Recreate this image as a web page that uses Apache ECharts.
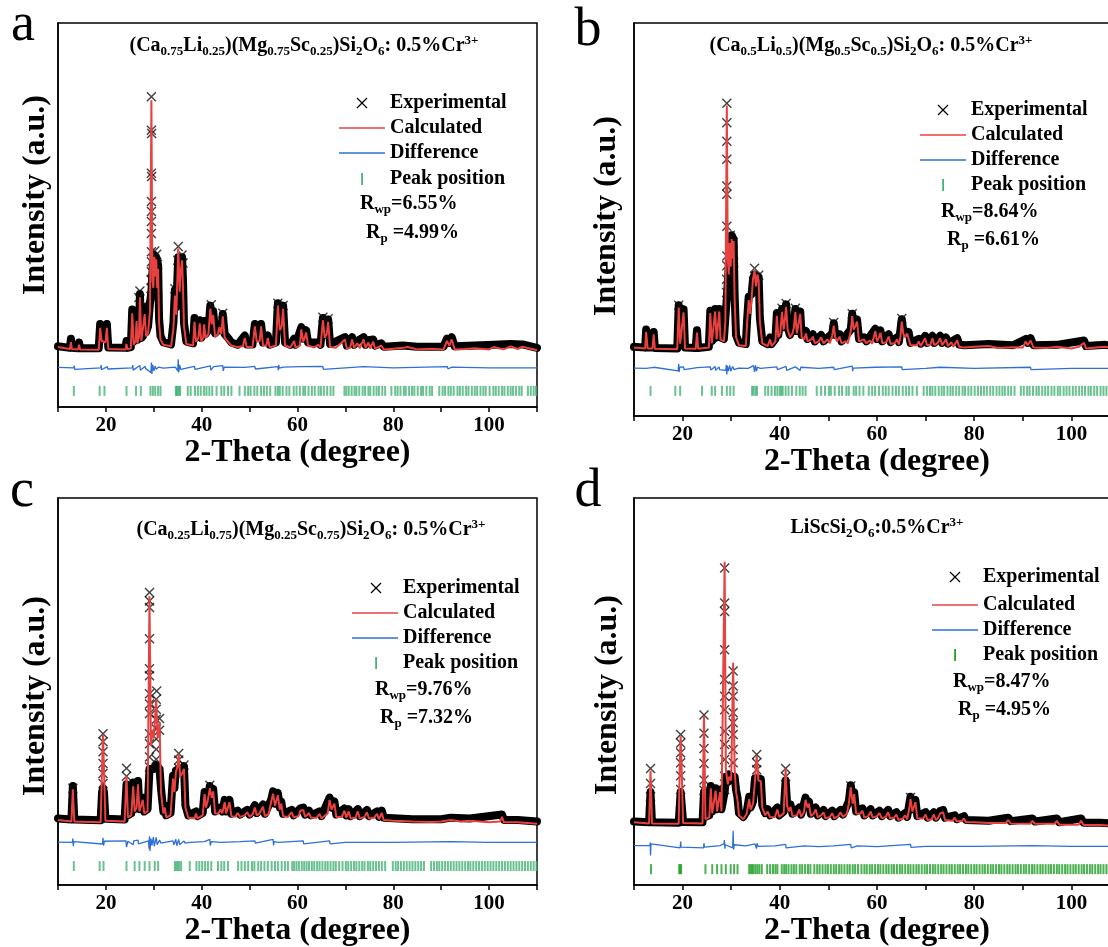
<!DOCTYPE html>
<html><head><meta charset="utf-8">
<script src="https://cdn.jsdelivr.net/npm/echarts@6/dist/echarts.min.js"></script>
<style>html,body{margin:0;padding:0;background:#fff}#c{width:1108px;height:947px}</style>
</head><body><div id="c"></div>
<script>
// ---------------- DATA ----------------
const xTickLabels = [20, 40, 60, 80, 100];

// Panel a
const calcA = [[10,15.6],[11.5,15.3],[12.5,15.1],[12.7,16.9],[12.9,15.1],[14.2,15.0],[14.4,16.2],[14.6,15.0],[18.5,14.9],[18.8,20.6],[19.1,17.2],[19.9,16.8],[20.2,20.6],[20.5,15.1],[24.1,15.0],[24.3,16.4],[24.5,15.0],[25.2,15.2],[25.5,24.4],[25.8,16.2],[26.2,17.2],[26.4,22.4],[26.6,16.6],[26.9,18.2],[27.1,28.6],[27.4,17.2],[27.8,17.6],[28.1,24.2],[28.4,18.4],[28.8,19.2],[29.2,25.0],[29.5,79.9],[29.7,33],[29.9,31],[30.1,39.1],[30.3,34],[30.5,38.5],[30.7,31],[30.9,36],[31.1,22],[31.4,17.5],[32.0,16.2],[33.6,15.8],[34.1,20.5],[34.4,29],[34.7,24],[35.1,41.3],[35.4,30],[35.6,35],[35.9,38.2],[36.1,31],[36.3,21],[36.8,16.4],[38.2,16.0],[38.5,22.2],[38.8,17.0],[39.3,18.0],[39.6,21.8],[39.9,17.0],[40.3,18.0],[40.5,21.5],[40.8,18.0],[41.4,19.0],[41.8,25.6],[42.1,21.5],[42.4,24.0],[42.8,18.2],[43.4,19.0],[43.7,20.8],[44.1,19.0],[44.4,23.6],[44.8,18.0],[45.5,17.0],[46.2,16.0],[47.5,15.6],[48.6,15.8],[49.0,18.0],[49.4,15.6],[50.6,15.6],[51.1,21.0],[51.5,17.0],[52.1,17.2],[52.4,21.0],[52.8,16.0],[53.5,16.0],[53.8,18.0],[54.2,15.5],[55.5,16.0],[55.9,26.4],[56.3,20.0],[56.7,21.0],[57.0,25.6],[57.4,16.0],[58.5,15.5],[59.3,17.2],[59.6,15.5],[60.5,16.0],[60.8,20.2],[61.2,17.0],[61.5,18.0],[61.8,19.4],[62.2,16.0],[63.5,15.5],[64.3,16.2],[64.8,15.5],[65.3,22.6],[65.7,18.0],[66.1,19.0],[66.4,22.2],[66.8,15.6],[68.0,15.4],[69.9,17.6],[70.3,15.2],[71.0,15.4],[71.4,17.6],[71.8,15.4],[72.5,16.6],[73.0,15.3],[73.8,17.6],[74.2,15.4],[74.8,16.8],[75.2,15.2],[75.8,17.0],[76.2,15.2],[77.5,16.0],[78.0,15.0],[80.0,15.2],[82.0,15.4],[83.0,15.6],[85.0,15.0],[88.0,15.2],[90.5,15.0],[91.2,17.2],[91.7,16.0],[92.2,17.6],[92.8,15.0],[95.0,15.1],[97.0,15.3],[100.0,15.0],[101.0,15.6],[103.0,15.0],[104.5,15.8],[106.0,15.1],[107.0,15.7],[110.0,14.8]];
const obsA = [[10,15.8],[12.5,15.4],[12.7,17.8],[12.9,15.4],[14.2,15.3],[14.4,16.8],[14.6,15.3],[18.5,15.3],[18.8,21.6],[19.1,18],[19.9,17.6],[20.2,21.6],[20.5,15.5],[24.1,15.4],[24.3,17.2],[24.5,15.4],[25.2,15.6],[25.5,25.4],[25.8,17],[26.2,18],[26.4,23.2],[26.6,17.5],[26.9,19],[27.1,29.4],[27.4,18],[27.8,18.6],[28.1,26],[28.4,19.5],[28.8,21],[29.2,27],[29.5,30],[29.8,37],[30.1,39.6],[30.5,39],[30.9,37],[31.1,23],[31.4,18.5],[32.0,16.8],[33.6,16.3],[34.1,22],[34.4,30.5],[34.7,26],[35.1,39],[35.4,32],[35.9,39],[36.1,33],[36.3,22],[36.8,17],[38.2,16.6],[38.5,23.2],[38.8,18],[39.3,19],[39.6,22.6],[39.9,18],[40.3,19],[40.5,22.4],[40.8,19],[41.4,20],[41.8,26.4],[42.1,22.5],[42.4,25],[42.8,19.2],[43.4,20],[43.7,21.6],[44.1,20],[44.4,24.2],[44.8,19],[45.5,18],[46.2,16.8],[47.5,16.2],[49.0,18.6],[49.4,16.3],[50.6,16.3],[51.1,21.6],[51.5,18],[52.1,18],[52.4,21.6],[52.8,16.8],[53.8,18.6],[54.2,16.2],[55.5,16.8],[55.9,27],[56.3,21],[56.7,22],[57.0,26.4],[57.4,16.8],[58.5,16.2],[59.3,17.8],[59.6,16.2],[60.8,20.8],[61.2,17.8],[61.8,20],[62.2,16.8],[64.3,16.8],[64.8,16.2],[65.3,23.2],[65.7,18.8],[66.4,22.8],[66.8,16.4],[69.9,18.2],[70.3,16],[71.4,18.2],[71.8,16.2],[72.5,17.2],[73.8,18.2],[74.2,16.2],[74.8,17.4],[75.8,17.6],[76.2,16],[77.5,16.6],[78,15.7],[82,16],[85,15.7],[90.5,15.7],[91.2,17.8],[91.7,16.7],[92.2,18.2],[92.8,15.8],[97,16],[101,16.2],[104.5,16.4],[107,16.3],[110,15.4]];
const stackA = [[29.45,28.8],[29.45,30.9],[29.45,33.1],[29.5,35.2],[29.5,37.8],[29.5,40.4],[29.5,45.2],[29.5,48.3],[29.5,50.9],[29.5,53.5],[29.5,60.9],[29.55,60.0],[29.5,72.1],[29.55,71.2],[29.5,80.8],[30.0,38.5],[30.2,40.6],[30.4,37.5],[30.6,39.8],[30.8,37.2],[35.1,41.8],[35.0,38.2],[35.9,39.6],[36.1,37.5],[34.4,30.8],[27.1,30.2],[26.9,28.5],[28.1,26.8],[42.0,26.6],[44.4,24.4],[55.9,27.0],[57.0,26.4],[65.3,23.4],[66.4,23.0]];
const diffA = [[10,10.3],[13.3,10.2],[13.4,10.8],[13.5,9.8],[18.9,10.2],[19.0,10.9],[19.1,9.7],[20.3,10.5],[20.4,9.9],[25.5,10.2],[25.6,10.9],[25.7,9.6],[27.1,10.8],[27.2,9.6],[28.2,10.6],[28.3,10.0],[29.4,9.0],[29.5,11.6],[29.6,8.6],[29.8,11.0],[30.0,9.4],[30.3,10.6],[30.5,9.8],[31,10.4],[32,10.1],[34.5,10.4],[35.0,9.4],[35.1,12.4],[35.2,9.0],[35.4,11.0],[35.6,9.8],[36,10.3],[38.5,10.6],[38.6,9.8],[41.8,10.7],[41.9,9.6],[42.5,10.5],[44.4,10.8],[44.5,9.4],[44.7,10.4],[49,10.3],[51.1,10.6],[51.2,9.9],[55.9,10.5],[56.0,9.6],[56.1,11.0],[56.2,10.1],[57,10.4],[60.8,10.5],[61,10.0],[65.3,10.6],[65.4,9.8],[70,10.2],[73.8,10.5],[73.9,10.0],[80,10.2],[91.3,10.5],[91.4,9.9],[92.2,10.4],[100,10.2],[110,10.2]];
const ticksA = [13.3,18.7,19.7,24.3,26.3,27.3,29.3,29.8,30.3,30.9,31.4,34.6,34.8,35.0,35.3,35.5,37.1,37.7,38.6,39.2,39.8,40.5,41.0,41.6,42.2,43.1,44.1,44.7,45.5,46.2,47.9,49.0,49.7,50.2,51.0,51.6,52.4,53.0,53.6,54.3,55.4,55.9,56.3,56.9,57.7,58.3,59.2,59.8,60.5,61.2,61.6,62.3,63.0,63.6,64.4,64.9,65.5,66.2,66.9,67.5,69.8,70.2,70.7,71.3,71.9,72.3,72.9,73.6,74.1,74.8,75.2,75.9,76.5,77.0,77.7,78.3,79.6,80.4,80.9,81.5,82.2,82.6,83.3,83.9,84.4,85.1,85.8,86.2,86.9,87.6,88.1,89.6,90.3,90.8,91.5,92.0,92.6,93.4,93.9,94.5,95.2,95.7,96.4,97.0,97.5,98.2,98.8,99.3,100.1,100.9,101.4,102.0,102.7,103.2,103.9,104.5,105.0,105.6,106.3,106.8,108.1,108.7,109.3,109.8];

// Panel b
const calcB = [[10,17.4],[12.3,17.2],[12.5,21.4],[12.8,17.2],[13.8,17.2],[14.05,20.8],[14.3,17.1],[18.9,17.0],[19.2,27.6],[19.5,18.4],[19.9,18.0],[20.2,26.4],[20.5,17.2],[22.7,17.1],[22.96,21.2],[23.2,17.1],[25.4,17.4],[25.7,26.2],[26.0,18.5],[26.4,19.0],[26.7,26.6],[27.0,19.5],[27.3,19.8],[27.55,26.6],[27.8,19.5],[28.5,19],[28.8,24],[29.1,79.0],[29.3,40],[29.5,36],[29.7,44],[29.9,38],[30.1,45],[30.3,40],[30.5,44.5],[30.7,30],[31.0,20],[31.6,18],[33.0,17.8],[33.3,24],[33.6,29.5],[33.9,26],[34.2,30],[34.5,35],[34.8,37],[35.1,33],[35.4,36],[35.65,34.5],[35.9,24],[36.4,18.5],[37.5,17.8],[38.0,19.5],[38.3,17.8],[39.1,19],[39.4,25.5],[39.7,20],[40.1,21],[40.45,26.5],[40.8,22],[41.0,24],[41.3,27.8],[41.6,22],[42.1,20],[42.6,21],[42.9,22.5],[43.2,26.5],[43.5,21],[43.9,21],[44.2,26],[44.5,20],[45.0,19.5],[45.4,21],[45.7,19],[46.5,19.5],[46.8,20.2],[47.2,18.5],[48.0,19.0],[48.5,20.0],[49.0,18.5],[49.8,19.5],[50.3,18.5],[50.8,20.5],[51.1,23.0],[51.4,20],[51.8,19],[52.3,20.2],[52.7,18.5],[53.5,19],[54.0,18.5],[54.6,21.5],[54.9,25.4],[55.2,22],[55.6,23],[55.9,24.0],[56.3,19],[57.3,19.5],[57.8,18.5],[58.5,19.2],[59.0,18.4],[59.65,21.6],[60.0,19],[60.4,20],[60.7,21.2],[61.1,18.5],[61.9,18.8],[62.4,20.2],[62.8,18.3],[63.7,18.6],[64.1,19.5],[64.5,18.2],[64.8,20],[65.1,24.0],[65.4,21],[65.8,20],[66.2,21],[66.5,20.8],[66.9,18],[68.2,18.0],[68.6,19.0],[69.0,17.8],[69.9,19.8],[70.3,18],[71,18.2],[71.4,19.8],[71.8,18],[72.5,18.6],[73.0,19.8],[73.4,18],[74.2,19.5],[74.6,17.8],[75.3,18.8],[75.7,17.6],[76.5,19.3],[76.9,17.6],[78.0,17.4],[80,17.6],[83,17.8],[85,17.3],[88,17.5],[90.0,17.4],[90.6,19.0],[91.0,18.0],[91.6,19.2],[92.2,17.4],[95,17.3],[97,17.6],[100,17.2],[101.5,17.6],[102.6,18.6],[103.0,17.2],[105,17.4],[107,17.6],[110,17.0]];
const obsB = [[10,17.6],[12.3,17.4],[12.5,22],[12.8,17.4],[13.8,17.4],[14.05,21.4],[14.3,17.3],[18.9,17.2],[19.2,28.2],[19.5,19],[19.9,18.6],[20.2,27.2],[20.5,17.4],[22.7,17.3],[22.96,21.8],[23.2,17.3],[25.4,17.6],[25.7,26.8],[26.0,19],[26.4,19.6],[26.7,27.2],[27.0,20],[27.3,20.4],[27.55,27.2],[27.8,20],[28.5,19.6],[28.8,25],[29.1,30],[29.5,38],[29.8,44],[30.1,46],[30.5,45],[30.7,31],[31.0,20.6],[31.6,18.6],[33.0,18.3],[33.3,25],[33.6,30.4],[34.2,31],[34.5,35],[34.8,36],[35.1,34],[35.65,35.4],[35.9,25],[36.4,19],[37.5,18.3],[38.0,20],[38.3,18.3],[39.1,19.6],[39.4,26.2],[39.7,20.6],[40.45,27.2],[40.8,22.6],[41.3,28.4],[41.6,22.6],[42.1,20.6],[42.9,23],[43.2,27.2],[43.5,21.6],[44.2,26.6],[44.5,20.6],[45.4,21.6],[45.7,19.6],[46.8,20.8],[47.2,19],[48.5,20.6],[49.0,19],[50.8,21],[51.1,23.6],[51.4,20.6],[52.3,20.8],[52.7,19],[54.6,22],[54.9,26],[55.2,22.6],[55.9,24.6],[56.3,19.6],[57.3,20],[57.8,19],[59.65,22.2],[60.0,19.6],[60.7,21.8],[61.1,19],[62.4,20.8],[62.8,18.8],[64.1,20],[64.5,18.8],[65.1,24.6],[65.4,21.6],[66.5,21.4],[66.9,18.6],[68.6,19.6],[69.0,18.4],[69.9,20.4],[70.3,18.6],[71.4,20.4],[71.8,18.6],[73.0,20.4],[73.4,18.6],[74.2,20],[74.6,18.4],[76.5,19.8],[76.9,18.2],[78,18],[83,18.3],[88,18],[90.6,19.6],[91.0,18.6],[91.6,19.8],[92.2,18],[97,18.1],[102.6,19.2],[103,17.8],[107,18.1],[110,17.6]];
const stackB = [[29.05,31.4],[29.05,34.8],[29.1,38.2],[29.1,40.7],[29.1,48.3],[29.1,56.4],[29.1,58.5],[29.1,65.3],[29.1,69.9],[29.1,74.6],[29.1,79.6],[29.8,46.0],[30.0,43.4],[30.2,41.0],[30.4,44.2],[30.5,39.0],[29.9,36.0],[34.8,37.6],[34.6,34.2],[35.0,35.4],[35.65,35.8],[19.2,28.2],[41.3,28.6],[40.45,27.4],[43.2,27.4],[51.1,23.8],[54.9,26.0],[65.1,24.8]];
const diffB = [[10,12.2],[12.5,12.1],[12.6,12.6],[12.7,11.7],[14.1,12.4],[14.2,11.9],[19.1,11.5],[19.2,13.2],[19.3,11.2],[19.4,12.4],[20.2,12.5],[20.3,11.8],[23,12.3],[25.7,12.5],[25.8,11.7],[26.7,12.6],[26.8,11.6],[27.5,12.5],[27.6,11.8],[28.9,11.6],[29.0,13.0],[29.1,10.6],[29.2,12.8],[29.4,11.4],[29.7,12.9],[29.9,11.4],[30.3,12.6],[30.6,11.8],[31.5,12.2],[33.5,12.1],[34.6,12.8],[34.8,11.2],[35.0,12.9],[35.2,11.4],[35.4,12.4],[36,12.1],[39.4,12.5],[39.5,11.8],[41.3,12.6],[41.4,11.6],[43.2,12.5],[44.2,11.6],[44.3,12.4],[48,12.1],[51.1,12.4],[51.2,11.8],[54.9,12.7],[55.0,11.4],[55.1,12.2],[59.7,12.4],[60,12.0],[65.1,12.5],[65.2,11.8],[70,12.1],[73,12.4],[73.1,11.9],[80,12.1],[91.6,12.4],[91.7,11.8],[100,12.1],[110,12.1]];
const ticksB = [13.4,18.5,19.5,24.0,26.0,26.7,28.1,29.1,29.8,30.5,34.3,34.6,35.0,35.3,37.0,37.6,38.3,39.0,39.5,40.0,40.3,40.6,41.2,41.8,42.5,43.4,44.1,44.7,45.3,47.6,48.5,49.3,50.1,50.5,51.3,52.2,52.8,53.7,54.2,55.2,55.7,56.4,57.2,58.3,59.0,59.6,60.4,61.2,61.8,62.4,63.2,63.9,64.5,65.3,66.0,66.6,67.3,68.2,69.6,70.3,70.9,71.4,72.0,72.7,73.3,73.8,74.5,75.1,75.6,76.3,76.9,77.6,78.1,78.8,79.4,80.1,80.8,81.4,82.0,82.6,83.3,83.9,84.6,85.2,85.8,86.3,87.0,87.6,88.3,89.6,90.2,90.9,91.4,92.1,92.8,93.3,94.0,94.6,95.2,95.9,96.5,97.2,97.7,98.4,99.0,99.6,100.3,100.9,101.6,102.2,102.8,103.5,104.0,104.7,105.3,106.0,106.6,107.2,107.9,108.5,109.1];

// Panel c
const calcC = [[10,16.8],[12.8,16.4],[13.1,24.7],[13.4,16.4],[18.9,16.2],[19.2,30],[19.4,38.9],[19.6,30],[19.9,16.6],[23.9,16.4],[24.3,28.2],[24.6,17.5],[25.3,18],[25.7,25.5],[26.0,19],[26.4,20],[26.7,26.0],[27.0,19],[27.4,19],[27.7,22],[28.0,18.5],[28.7,19],[29.1,74.6],[29.4,36],[29.7,40],[30.0,38],[30.3,44],[30.5,47.9],[30.8,38],[31.2,42],[31.5,24],[32.0,18.5],[32.3,20],[32.6,17.5],[33.5,18],[34.0,27.5],[34.3,24],[34.6,29],[35.0,31],[35.2,33.8],[35.5,28],[36.0,29],[36.3,30],[36.6,20],[37.2,17.4],[38.5,17.2],[38.8,18.5],[39.1,17.2],[40.2,18],[40.6,23.5],[40.9,20],[41.3,22],[41.7,25.0],[42.1,22.5],[42.4,24.2],[42.8,18.5],[43.5,18.5],[43.9,19.5],[44.3,18.5],[44.8,21.4],[45.1,18.5],[45.5,19],[45.8,21.4],[46.2,17.8],[47.0,17.6],[47.5,18.6],[48.0,17.6],[49.0,18.0],[49.5,18.8],[50.0,17.6],[50.6,18.2],[51.1,20.0],[51.5,18],[52.0,18.4],[52.8,20.2],[53.2,17.8],[54.0,18.4],[54.5,21.5],[54.9,23.6],[55.3,20.5],[55.9,23.2],[56.3,19.5],[56.6,21.0],[57.0,17.8],[58.0,17.6],[58.8,18.8],[59.2,17.5],[60.2,17.8],[60.6,19.2],[61.2,19.4],[61.6,17.6],[62.4,18.6],[62.8,17.4],[64.0,17.4],[64.6,18.4],[65.0,17.2],[66.3,18.5],[66.7,22.0],[67.1,19.5],[67.7,21.0],[68.1,17.6],[69.3,17.6],[69.8,19.2],[70.2,17.4],[70.7,19.0],[71.1,17.2],[72.1,17.4],[72.6,19.0],[73.0,17.2],[74.0,17.6],[74.5,18.8],[74.9,17.2],[76.0,17.4],[76.6,18.4],[77.0,17.0],[77.6,18.6],[78.0,16.8],[80,16.6],[84,16.4],[88,16.3],[90,16.4],[92,16.8],[94,16.4],[96,16.6],[100,16.2],[102.3,16.4],[102.7,17.6],[103.1,16.2],[106,16.2],[110,15.8]];
const obsC = [[10,17.2],[12.8,16.9],[13.1,25.6],[13.4,16.9],[18.9,16.7],[19.2,24],[19.4,25],[19.6,24],[19.9,17.1],[23.9,16.9],[24.3,26],[24.6,18],[25.3,18.5],[25.7,26.5],[26.0,19.6],[26.4,20.6],[26.7,26.9],[27.0,19.6],[27.7,22.6],[28.0,19],[28.7,19.6],[29.1,30],[29.5,30],[30.0,30],[30.5,31],[31.2,30],[31.5,25],[32.0,19],[32.3,20.6],[32.6,18],[33.5,18.6],[34.0,28.2],[34.3,25],[34.6,29.6],[35.2,30],[35.5,29],[36.3,30.7],[36.6,20.6],[37.2,18],[38.8,19],[39.1,17.8],[40.2,18.6],[40.6,24],[40.9,20.6],[41.3,22.6],[41.7,25.6],[42.1,23],[42.4,24.8],[42.8,19],[43.9,20],[44.3,19],[44.8,22],[45.1,19],[45.8,22],[46.2,18.4],[47.5,19.2],[48.0,18.2],[49.5,19.4],[50.0,18.2],[51.1,20.6],[51.5,18.6],[52.8,20.8],[53.2,18.4],[54.5,22],[54.9,24.2],[55.3,21],[55.9,23.8],[56.3,20],[56.6,21.6],[57.0,18.4],[58.8,19.4],[59.2,18],[60.6,19.8],[61.2,20],[61.6,18.2],[62.4,19.2],[62.8,18],[64.6,19],[65.0,17.8],[66.7,22.6],[67.1,20],[67.7,21.6],[68.1,18.2],[69.8,19.8],[70.2,18],[70.7,19.6],[71.1,17.8],[72.6,19.6],[73.0,17.8],[74.5,19.4],[74.9,17.8],[76.6,19],[77.0,17.6],[77.6,19.2],[78.0,17.4],[84,17],[90,17],[92,17.4],[96,17.2],[102.7,18.2],[103.1,16.8],[106,16.8],[110,16.4]];
const stackC = [[29.1,30.5],[29.1,33.1],[29.1,36.5],[29.1,39.1],[29.1,44.3],[29.1,46.8],[29.1,49.4],[29.1,54.1],[29.1,55.9],[29.1,63.6],[29.1,71.7],[29.1,73.4],[29.1,75.6],[30.5,32.5],[30.5,35.1],[30.5,37.7],[30.5,40.3],[30.5,42.8],[30.5,45.4],[30.5,48.0],[30.6,50.1],[31.2,40.0],[31.2,43.0],[19.4,26.2],[19.4,28.8],[19.4,31.4],[19.4,34.4],[19.4,37.0],[19.4,39.1],[24.3,28.1],[24.3,30.2],[35.2,30.2],[35.2,32.3],[35.2,34.0],[36.3,31.0],[13.1,25.0],[41.7,25.8]];
const diffC = [[10,11.1],[13.0,11.0],[13.1,12.0],[13.2,10.0],[13.3,11.2],[19.3,10.6],[19.4,12.2],[19.5,10.2],[19.7,11.3],[24.2,11.4],[24.3,9.8],[24.4,10.2],[24.6,11.3],[25.7,10.4],[25.8,11.4],[26.7,11.6],[26.8,10.6],[28.9,11.4],[29.0,9.4],[29.1,12.6],[29.2,8.8],[29.4,12.0],[29.6,10.2],[29.9,12.4],[30.1,10.0],[30.5,12.3],[30.7,10.4],[31.2,11.6],[31.5,10.8],[34.0,11.4],[34.2,10.4],[34.6,11.8],[34.8,10.2],[35.2,11.8],[35.4,10.4],[36.3,11.4],[36.5,10.8],[37.5,11],[40.6,11.2],[41.7,11.8],[41.8,10.2],[42.0,11.2],[44,11],[48,11.2],[51.1,11.4],[51.2,10.8],[54.9,11.8],[55.0,10.2],[55.1,11.2],[56,11],[61.2,11.4],[61.3,10.6],[66.7,11.4],[66.8,10.6],[70,11],[80,11],[92,11.2],[100,11],[110,11]];
const ticksC = [13.3,18.7,19.5,24.3,26.0,27.0,28.1,29.1,30.2,30.9,34.4,34.7,35.0,35.3,35.7,37.5,38.9,39.5,40.1,40.7,41.3,42.0,43.4,44.1,44.7,45.5,47.6,48.3,49.0,49.7,50.5,51.0,51.8,52.4,53.1,53.8,54.6,55.3,55.9,56.7,57.4,58.0,58.9,59.3,59.8,60.3,60.9,61.4,61.9,62.4,63.0,63.5,64.1,64.6,65.2,65.8,66.3,66.9,67.5,68.0,68.7,69.4,70.1,70.6,71.2,71.8,72.3,72.9,73.5,74.0,74.7,75.2,75.8,76.4,77.0,77.6,78.3,79.9,80.5,81.0,81.6,82.2,82.8,83.4,84.0,84.6,85.2,85.8,86.4,87.9,88.5,89.1,89.6,90.2,90.8,91.4,92.0,92.6,93.2,93.8,94.4,95.0,95.6,96.1,96.7,97.3,97.9,98.5,99.1,99.7,100.3,100.9,101.5,102.1,102.7,103.3,103.9,104.5,105.1,105.7,106.3,106.9,107.5,108.1,108.7,109.3,109.9];

// Panel d
const calcD = [[10,16.2],[13.1,15.9],[13.4,29.5],[13.7,15.9],[19.2,15.8],[19.4,30],[19.6,38.4],[19.8,30],[20.1,16.0],[24.1,15.9],[24.4,43.6],[24.7,17],[25.5,17.5],[25.8,25.0],[26.1,18.5],[26.5,19],[26.8,24.4],[27.1,19],[27.4,19.5],[27.7,24.0],[28.0,19],[28.4,19.5],[28.65,83.5],[28.9,30],[29.3,26],[29.6,28],[30.0,27],[30.4,57.4],[30.7,30],[31.0,24],[31.3,22.0],[31.6,18],[32.5,17],[33.2,18.5],[33.7,22.2],[34.0,19.5],[34.5,21],[34.9,27],[35.25,33.4],[35.6,27],[36.1,26.8],[36.4,20],[37.0,18],[37.5,19],[38.0,17.5],[39.0,17.6],[39.5,19.5],[39.9,17.6],[40.8,18.5],[41.2,30.0],[41.5,20.5],[41.9,19],[42.2,20.2],[42.6,17.8],[43.5,18.0],[44.0,19.5],[44.4,17.6],[45.0,19],[45.3,22.0],[45.7,20],[46.0,21.0],[46.4,17.8],[47.0,18.5],[47.4,19.5],[47.8,17.5],[48.5,18.0],[49.0,18.8],[49.4,17.2],[50.3,17.6],[50.8,18.6],[51.2,17.2],[52.0,17.8],[52.5,18.8],[53.0,17.6],[53.8,18.4],[54.2,21.0],[54.6,25.2],[55.0,21],[55.3,23.5],[55.7,18.5],[56.5,18.4],[57.0,19.2],[57.4,17.4],[58.2,17.8],[58.7,19.0],[59.1,17.4],[60.0,17.8],[60.5,18.6],[61.0,17.2],[61.8,17.6],[62.3,18.8],[62.7,17.2],[63.5,17.4],[64.0,18.2],[64.4,16.8],[65.3,17.2],[65.8,18.0],[66.2,17.0],[66.6,19.5],[66.9,22.2],[67.3,19],[67.9,21.4],[68.3,17.2],[69.5,17.2],[70.0,18.2],[70.4,16.8],[71.2,17.0],[71.7,18.2],[72.1,16.8],[72.6,17.4],[73.0,18.5],[73.6,18.8],[74.0,16.8],[75.5,16.6],[76.0,17.4],[76.4,16.4],[77.5,16.6],[77.9,17.2],[78.3,16.2],[80,16.2],[83,16.0],[86.5,16.0],[87.0,16.8],[87.5,15.9],[91.5,15.8],[92.0,16.6],[92.5,15.8],[96.5,15.8],[97.0,16.6],[97.5,15.6],[101.5,15.6],[102.0,16.6],[102.5,15.5],[106,15.5],[110,15.2]];
const obsD = [[10,16.4],[13.1,16.2],[13.4,24],[13.7,16.2],[19.2,16.1],[19.6,24],[20.1,16.3],[24.1,16.2],[24.4,24],[24.7,17.6],[25.5,18],[25.8,25.6],[26.1,19],[26.5,19.6],[26.8,25],[27.1,19.6],[27.4,20],[27.7,24.6],[28.0,19.6],[28.4,20],[28.65,24],[28.9,28],[29.3,26.6],[29.6,28.6],[30.0,27.6],[30.4,28],[30.7,28],[31.0,24.6],[31.3,22.6],[31.6,18.6],[32.5,17.6],[33.2,19],[33.7,22.8],[34.0,20],[34.5,21.6],[34.9,27.6],[35.25,28],[35.6,27.6],[36.1,27.4],[36.4,20.6],[37.0,18.6],[37.5,19.6],[38.0,18],[39.5,20],[39.9,18],[40.8,19],[41.2,27],[41.5,21],[42.2,20.8],[42.6,18.4],[44.0,20],[44.4,18.2],[45.3,22.6],[45.7,20.6],[46.0,21.6],[46.4,18.4],[47.4,20],[47.8,18],[49.0,19.4],[49.4,17.8],[50.8,19.2],[51.2,17.8],[52.5,19.4],[53.0,18.2],[54.2,21.6],[54.6,25.8],[55.0,21.6],[55.3,24],[55.7,19],[57.0,19.8],[57.4,18],[58.7,19.6],[59.1,18],[60.5,19.2],[61.0,17.8],[62.3,19.4],[62.7,17.8],[64.0,18.8],[64.4,17.4],[65.8,18.6],[66.2,17.6],[66.9,22.8],[67.3,19.6],[67.9,22],[68.3,17.8],[70.0,18.8],[70.4,17.4],[71.7,18.8],[72.1,17.4],[73.0,19.1],[73.6,19.4],[74.0,17.4],[76.0,18],[76.4,17],[77.9,17.8],[78.3,16.8],[83,16.6],[87.0,17.4],[87.5,16.5],[92.0,17.2],[92.5,16.4],[97.0,17.2],[97.5,16.2],[102.0,17.2],[102.5,16.1],[106,16.1],[110,15.8]];
const stackD = [[28.65,24.7],[28.65,28.1],[28.65,32.4],[28.65,36.3],[28.65,39.7],[28.65,45.3],[28.65,48.8],[28.65,53.1],[28.65,60.8],[28.65,70.7],[28.65,72.9],[28.65,81.9],[30.4,31.6],[30.4,35.0],[30.4,38.9],[30.4,41.9],[30.4,44.5],[30.4,48.8],[30.4,51.4],[30.4,55.3],[24.4,24.5],[24.4,27.1],[24.4,31.4],[24.4,35.3],[24.4,39.2],[24.4,43.9],[19.6,24.7],[19.6,28.2],[19.6,31.6],[19.6,34.2],[19.6,36.7],[19.6,38.9],[13.4,22.8],[13.4,26.2],[13.4,30.1],[35.25,29.8],[35.25,31.6],[35.25,33.7],[41.2,28.0],[41.2,30.1],[54.6,25.6],[66.9,22.6]];
const diffD = [[10,10.2],[13.3,10.2],[13.35,11.0],[13.4,7.6],[13.5,10.6],[13.6,10.1],[19.5,9.6],[19.6,11.2],[19.7,9.8],[24.3,9.6],[24.4,10.8],[24.5,9.8],[27.7,10.2],[28.5,10.6],[28.6,11.6],[28.7,9.4],[28.8,10.4],[30.3,9.6],[30.4,14.0],[30.5,9.2],[30.6,10.4],[33,10.1],[34.9,10.6],[35.2,9.4],[35.3,10.8],[35.5,10],[39,10.1],[41.2,10.5],[41.3,9.6],[45,10.1],[48,9.9],[51,10.1],[54.6,10.5],[54.7,9.6],[56,10.1],[60,9.9],[66.9,10.5],[67.0,9.7],[70,10],[80,10],[92,10.2],[100,10],[110,10]];
const ticksD = [13.5,19.3,19.5,19.7,24.7,26.1,27.1,28.0,28.9,29.9,30.6,31.3,33.7,34.0,34.3,34.6,35.0,35.4,35.8,36.3,37.4,38.0,38.6,39.1,39.5,40.4,40.9,41.3,41.8,42.4,42.9,43.4,44.1,44.6,45.2,45.8,46.3,47.1,47.7,48.2,48.8,49.4,49.9,50.5,51.1,51.6,52.2,52.7,53.3,53.9,54.4,55.0,55.5,56.1,56.8,57.4,57.9,58.5,59.0,59.6,60.2,60.7,61.3,61.9,62.4,63.0,63.5,64.1,64.7,65.2,65.8,66.4,66.9,67.5,68.1,68.6,69.2,69.8,70.3,70.9,71.5,72.0,72.6,73.2,73.7,74.3,74.9,75.4,76.0,76.6,77.1,77.7,78.3,78.8,79.4,80.0,80.5,81.1,81.7,82.2,82.8,83.4,83.9,84.5,85.1,85.6,86.2,86.8,87.3,87.9,88.5,89.0,89.6,90.2,90.7,91.3,91.9,92.4,93.0,93.6,94.1,94.7,95.3,95.8,96.4,97.0,97.5,98.1,98.7,99.2,99.8,100.4,100.9,101.5,102.1,102.6,103.2,103.8,104.3,104.9,105.5,106.0,106.6,107.2,107.7,108.3,108.9,109.4];

// level (intensity) at which the reflection markers are drawn, per panel
const tickLevel = [4.2, 6.4, 4.9, 4.1];
const rwp = ['6.55%', '8.64%', '9.76%', '8.47%'];
const rp  = ['4.99%', '6.61%', '7.32%', '4.95%'];
const legendNames = ['Experimental', 'Calculated', 'Difference', 'Peak position'];

// ---------------- STYLE / LAYOUT ----------------
const FONT = '"Liberation Serif","Times New Roman",serif';
const RED = '#e8413f', BLUE = '#2e6fd8', GREEN = '#45b276', GREEN_D = '#1f9e28';
const XPATH = 'path://M0,1L1,0L5,4L9,0L10,1L6,5L10,9L9,10L5,6L1,10L0,9L4,5Z';

const panels = [
  { calc: calcA, obs: obsA, stack: stackA, diff: diffA, ticks: ticksA, green: GREEN,
    grid: {left: 58, top: 23, width: 479, height: 384}, letter: ['a', 23, 26], title: [304, 46],
    yname: [36, 195], leg: {mx: 362, tx: 390, l1: 339, l2: 385, ys: [103, 128, 153, 179], r: [[360, 204], [366, 233]]},
    titleText: '{m|(Ca}{s|0.75}{m|Li}{s|0.25}{m|)(Mg}{s|0.75}{m|Sc}{s|0.25}{m|)Si}{s|2}{m|O}{s|6}{m|: 0.5%Cr}{u|3+}' },
  { calc: calcB, obs: obsB, stack: stackB, diff: diffB, ticks: ticksB, green: GREEN,
    grid: {left: 634, top: 23, width: 486, height: 393}, letter: ['b', 588, 31], title: [871, 46],
    yname: [607, 216], leg: {mx: 943, tx: 971, l1: 920, l2: 966, ys: [110, 135, 160, 185], r: [[941, 212], [947, 240]]},
    titleText: '{m|(Ca}{s|0.5}{m|Li}{s|0.5}{m|)(Mg}{s|0.5}{m|Sc}{s|0.5}{m|)Si}{s|2}{m|O}{s|6}{m|: 0.5%Cr}{u|3+}' },
  { calc: calcC, obs: obsC, stack: stackC, diff: diffC, ticks: ticksC, green: GREEN,
    grid: {left: 58, top: 498, width: 479, height: 387}, letter: ['c', 22, 492], title: [311, 530],
    yname: [36, 696], leg: {mx: 376, tx: 403, l1: 352, l2: 398, ys: [588, 613, 638, 663], r: [[375, 690], [380, 718]]},
    titleText: '{m|(Ca}{s|0.25}{m|Li}{s|0.75}{m|)(Mg}{s|0.25}{m|Sc}{s|0.75}{m|)Si}{s|2}{m|O}{s|6}{m|: 0.5%Cr}{u|3+}' },
  { calc: calcD, obs: obsD, stack: stackD, diff: diffD, ticks: ticksD, green: GREEN_D,
    grid: {left: 634, top: 498, width: 486, height: 387}, letter: ['d', 588, 492], title: [877, 528],
    yname: [608, 695], leg: {mx: 955, tx: 983, l1: 932, l2: 978, ys: [577, 605, 630, 655], r: [[953, 682], [958, 710]]},
    titleText: '{m|LiScSi}{s|2}{m|O}{s|6}{m|:0.5%Cr}{u|3+}' }
];

const richT = {
  m: {fontFamily: FONT, fontWeight: 'bold', fontSize: 20, lineHeight: 24, fill: '#000'},
  s: {fontFamily: FONT, fontWeight: 'bold', fontSize: 13, lineHeight: 11, verticalAlign: 'bottom', fill: '#000'},
  u: {fontFamily: FONT, fontWeight: 'bold', fontSize: 13, lineHeight: 9, verticalAlign: 'top', fill: '#000'}
};
const richR = {
  m: {fontFamily: FONT, fontWeight: 'bold', fontSize: 20, lineHeight: 24, fill: '#000'},
  s: {fontFamily: FONT, fontWeight: 'bold', fontSize: 13, lineHeight: 10, verticalAlign: 'bottom', fill: '#000'}
};

const grids = [], xAxes = [], yAxes = [], series = [], graphics = [];
panels.forEach((p, i) => {
  grids.push(Object.assign({show: true, borderColor: '#000', borderWidth: 1.5, backgroundColor: 'transparent',
    containLabel: false, outerBoundsMode: 'none'}, p.grid));
  xAxes.push({
    gridIndex: i, type: 'value', min: 10, max: 110, interval: 10,
    axisLine: {show: true, onZero: false, lineStyle: {color: '#000', width: 1.5}},
    axisTick: {show: true, inside: false, length: 5, lineStyle: {color: '#000', width: 1.5}},
    axisLabel: {show: true, margin: 8, color: '#000', fontFamily: FONT, fontWeight: 'bold', fontSize: 21,
      formatter: v => xTickLabels.includes(v) ? String(v) : ''},
    splitLine: {show: false},
    name: '2-Theta (degree)', nameLocation: 'middle', nameGap: 27,
    nameTextStyle: {color: '#000', fontFamily: FONT, fontWeight: 'bold', fontSize: 32}
  });
  yAxes.push({
    gridIndex: i, type: 'value', min: 0, max: 100,
    axisLine: {show: true, lineStyle: {color: '#000', width: 1.5}},
    axisTick: {show: false}, axisLabel: {show: false}, splitLine: {show: false}
  });
  series.push({
    name: 'Experimental', type: 'line', xAxisIndex: i, yAxisIndex: i, data: p.obs,
    symbol: 'none', silent: true, z: 2,
    lineStyle: {color: '#000', width: 8, join: 'round', cap: 'round'}
  });
  series.push({
    name: 'Experimental', type: 'scatter', xAxisIndex: i, yAxisIndex: i, data: p.stack,
    symbol: XPATH, symbolSize: 10, silent: true, z: 3, itemStyle: {color: '#111'}
  });
  series.push({
    name: 'Calculated', type: 'line', xAxisIndex: i, yAxisIndex: i, data: p.calc,
    symbol: 'none', silent: true, z: 4, lineStyle: {color: RED, width: 2}
  });
  series.push({
    name: 'Difference', type: 'line', xAxisIndex: i, yAxisIndex: i, data: p.diff,
    symbol: 'none', silent: true, z: 4, lineStyle: {color: BLUE, width: 1.3}
  });
  series.push({
    name: 'Peak position', type: 'scatter', xAxisIndex: i, yAxisIndex: i,
    data: p.ticks.map(x => [x, tickLevel[i]]),
    symbol: 'rect', symbolSize: [2, 10], silent: true, z: 4, itemStyle: {color: p.green}
  });

  graphics.push({type: 'text', x: p.letter[1], y: p.letter[2],
    style: {text: p.letter[0], fill: '#000', font: '54px ' + FONT, align: 'center', verticalAlign: 'middle'}});
  graphics.push({type: 'text', x: p.title[0], y: p.title[1],
    style: {text: p.titleText, rich: richT, align: 'center', verticalAlign: 'middle', font: 'bold 20px ' + FONT}});
  graphics.push({type: 'text', x: p.yname[0], y: p.yname[1], rotation: Math.PI / 2,
    style: {text: 'Intensity (a.u.)', fill: '#000', font: 'bold 32px ' + FONT, align: 'center', verticalAlign: 'middle'}});
  const L = p.leg;
  const y0 = L.ys[0];
  graphics.push({type: 'line', shape: {x1: L.mx - 5, y1: y0 - 5, x2: L.mx + 5, y2: y0 + 5}, style: {stroke: '#000', lineWidth: 1.3}});
  graphics.push({type: 'line', shape: {x1: L.mx - 5, y1: y0 + 5, x2: L.mx + 5, y2: y0 - 5}, style: {stroke: '#000', lineWidth: 1.3}});
  graphics.push({type: 'line', shape: {x1: L.l1, y1: L.ys[1], x2: L.l2, y2: L.ys[1]}, style: {stroke: RED, lineWidth: 1.6}});
  graphics.push({type: 'line', shape: {x1: L.l1, y1: L.ys[2], x2: L.l2, y2: L.ys[2]}, style: {stroke: BLUE, lineWidth: 1.4}});
  graphics.push({type: 'rect', shape: {x: L.mx - 0.8, y: L.ys[3] - 6, width: 1.8, height: 12}, style: {fill: p.green}});
  legendNames.forEach((n, k) => {
    graphics.push({type: 'text', x: L.tx, y: L.ys[k],
      style: {text: n, fill: '#000', font: 'bold 20px ' + FONT, align: 'left', verticalAlign: 'middle'}});
  });
  graphics.push({type: 'text', x: L.r[0][0], y: L.r[0][1],
    style: {text: '{m|R}{s|wp}{m|=' + rwp[i] + '}', rich: richR, align: 'left', verticalAlign: 'middle', font: 'bold 20px ' + FONT}});
  graphics.push({type: 'text', x: L.r[1][0], y: L.r[1][1],
    style: {text: '{m|R}{s|p}{m| =' + rp[i] + '}', rich: richR, align: 'left', verticalAlign: 'middle', font: 'bold 20px ' + FONT}});
});

const chart = echarts.init(document.getElementById('c'), null, {renderer: 'canvas'});
chart.setOption({
  animation: false,
  backgroundColor: '#fff',
  grid: grids, xAxis: xAxes, yAxis: yAxes, series: series,
  graphic: {elements: graphics}
});
</script></body></html>
